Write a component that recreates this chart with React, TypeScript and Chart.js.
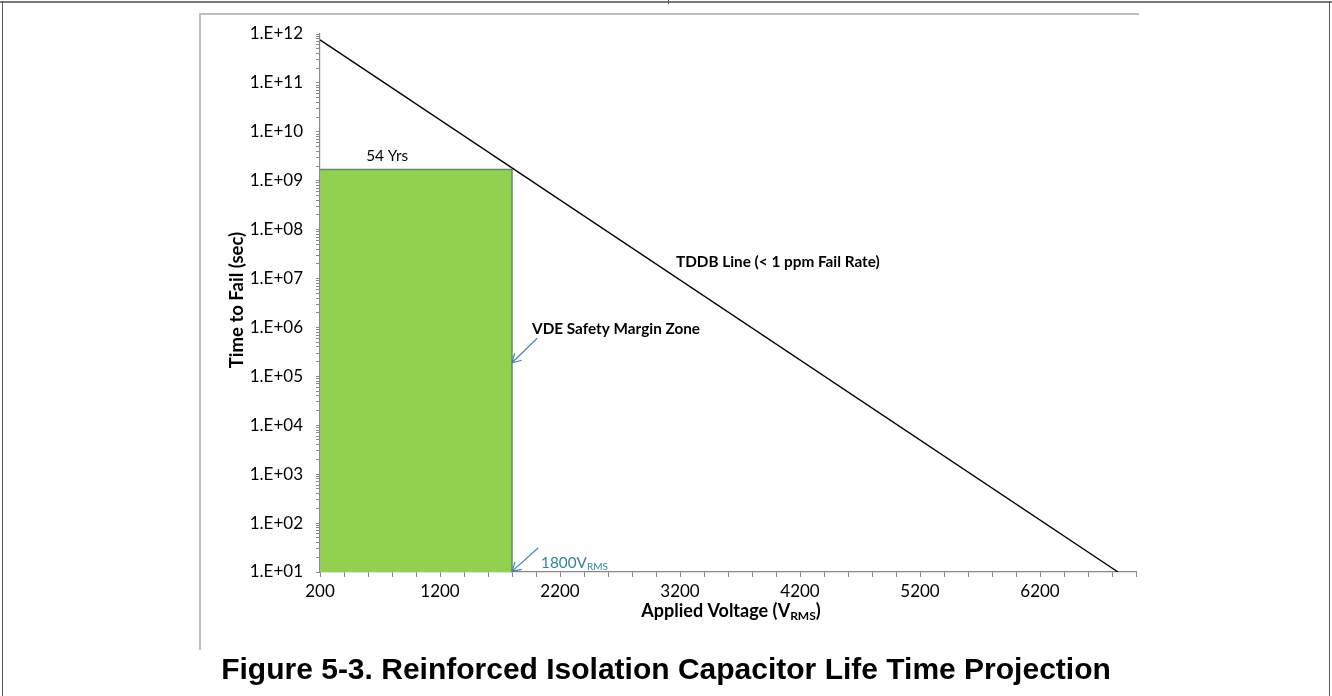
import React, { useEffect, useRef } from 'react';
import { Chart, registerables } from 'chart.js';

Chart.register(...registerables);

// ---------- data ----------
const voltageMin = 200;
const voltageMax = 7000;
const timeMin = 1e1;
const timeMax = 1e12;
const xMajorLabels = [200, 1200, 2200, 3200, 4200, 5200, 6200];
const xMinorStep = 200;
const yDecadeExponents = [1, 2, 3, 4, 5, 6, 7, 8, 9, 10, 11];

// TDDB line (< 1 ppm fail rate)
const tddbVoltage = [200, 6850];
const tddbTime = [7.6e11, 10];

// VDE safety margin zone (54 years at 1800 Vrms)
const zoneVoltage = [200, 1800, 1800];
const zoneTime = [1.7e9, 1.7e9, 10];

// text annotations (data coordinates)
const noteText = ['54 Yrs', 'TDDB Line (< 1 ppm Fail Rate)', 'VDE Safety Margin Zone'];
const noteVoltage = [760, 3167, 1967];
const noteTime = [3.2e9, 2.17e7, 9.3e5];
const noteBold = [false, true, true];
const noteAlign = ['center', 'left', 'left'];

// arrows (data coordinates): start -> end
const arrowFromVoltage = [2010, 2017];
const arrowFromTime = [6.0e5, 31];
const arrowToVoltage = [1800, 1800];
const arrowToTime = [1.9e5, 10.3];

const voltLabelMain = '1800V';
const voltLabelSub = 'RMS';
const voltLabelVoltage = 2042;
const voltLabelTime = 15.5;

const xTitleMain = 'Applied Voltage (V';
const xTitleSub = 'RMS';
const xTitleEnd = ')';
const yTitle = 'Time to Fail (sec)';
const caption = 'Figure 5-3. Reinforced Isolation Capacitor Life Time Projection';

const FONT = 'Lato, "Open Sans", sans-serif';
const AXIS_GRAY = '#898989';
const NOTE_SIZE = 15.3;

function fmtExp(v: number): string {
  const e = Math.round(Math.log10(v));
  if (Math.abs(v - Math.pow(10, e)) < 1e-6 * v) {
    return '1.E+' + String(e).padStart(2, '0');
  }
  return '';
}

function drawArrow(ctx: CanvasRenderingContext2D, x1: number, y1: number, x2: number, y2: number) {
  ctx.save();
  ctx.strokeStyle = '#4A7EBB';
  ctx.lineWidth = 1.2;
  ctx.beginPath();
  ctx.moveTo(x1, y1);
  ctx.lineTo(x2, y2);
  const ang = Math.atan2(y2 - y1, x2 - x1);
  const L = 10;
  const spread = Math.PI / 6;
  ctx.moveTo(x2 - L * Math.cos(ang - spread), y2 - L * Math.sin(ang - spread));
  ctx.lineTo(x2, y2);
  ctx.lineTo(x2 - L * Math.cos(ang + spread), y2 - L * Math.sin(ang + spread));
  ctx.stroke();
  ctx.restore();
}

function drawSubText(
  ctx: CanvasRenderingContext2D,
  main: string,
  sub: string,
  end: string,
  x: number,
  y: number,
  size: number,
  weight: string,
  color: string,
  align: 'left' | 'center'
) {
  const mainFont = `${weight} ${size}px ${FONT}`;
  const subFont = `${weight} ${Math.round(size * 0.68)}px ${FONT}`;
  ctx.save();
  ctx.fillStyle = color;
  ctx.textBaseline = 'middle';
  ctx.textAlign = 'left';
  ctx.font = mainFont;
  const w1 = ctx.measureText(main).width;
  const w3 = ctx.measureText(end).width;
  ctx.font = subFont;
  const w2 = ctx.measureText(sub).width;
  const total = w1 + w2 + w3;
  const sx = align === 'center' ? x - total / 2 : x;
  ctx.font = mainFont;
  ctx.fillText(main, sx, y);
  ctx.font = subFont;
  ctx.fillText(sub, sx + w1, y + size * 0.27);
  ctx.font = mainFont;
  ctx.fillText(end, sx + w1 + w2, y);
  ctx.restore();
}

const annotationPlugin = {
  id: 'annotations',
  afterDatasetsDraw(chart: any) {
    const { ctx, chartArea } = chart;
    const xs = chart.scales.x;
    const ys = chart.scales.y;
    ctx.save();
    for (let i = 0; i < noteText.length; i++) {
      ctx.font = `${noteBold[i] ? 'bold' : 'normal'} ${NOTE_SIZE}px ${FONT}`;
      ctx.fillStyle = '#000';
      ctx.textAlign = noteAlign[i] as CanvasTextAlign;
      ctx.textBaseline = 'middle';
      ctx.fillText(noteText[i], xs.getPixelForValue(noteVoltage[i]), ys.getPixelForValue(noteTime[i]));
    }
    for (let i = 0; i < arrowFromVoltage.length; i++) {
      drawArrow(
        ctx,
        xs.getPixelForValue(arrowFromVoltage[i]),
        ys.getPixelForValue(arrowFromTime[i]),
        xs.getPixelForValue(arrowToVoltage[i]),
        ys.getPixelForValue(arrowToTime[i])
      );
    }
    drawSubText(
      ctx,
      voltLabelMain,
      voltLabelSub,
      '',
      xs.getPixelForValue(voltLabelVoltage),
      ys.getPixelForValue(voltLabelTime),
      NOTE_SIZE,
      'normal',
      '#31859C',
      'left'
    );
    const cx = (chartArea.left + chartArea.right) / 2 + 3;
    drawSubText(ctx, xTitleMain, xTitleSub, xTitleEnd, cx, 611, 18, 'bold', '#000', 'center');
    ctx.save();
    ctx.translate(237, (chartArea.top + chartArea.bottom) / 2 - 3);
    ctx.rotate(-Math.PI / 2);
    ctx.font = `bold 18.5px ${FONT}`;
    ctx.fillStyle = '#000';
    ctx.textAlign = 'center';
    ctx.textBaseline = 'middle';
    ctx.fillText(yTitle, 0, 0);
    ctx.restore();
    ctx.restore();
  },
};

export default function App() {
  const canvasRef = useRef<HTMLCanvasElement | null>(null);

  useEffect(() => {
    document.body.style.margin = '0';
    const canvas = canvasRef.current;
    if (!canvas) return;

    const tddbData = tddbVoltage.map((v, i) => ({ x: v, y: tddbTime[i] }));
    const zoneData = zoneVoltage.map((v, i) => ({ x: v, y: zoneTime[i] }));

    const chart = new Chart(canvas, {
      type: 'scatter',
      data: {
        datasets: [
          {
            label: 'TDDB Line',
            data: tddbData,
            showLine: true,
            borderColor: '#000000',
            borderWidth: 1.4,
            pointRadius: 0,
            fill: false,
          },
          {
            label: 'VDE Safety Margin Zone',
            data: zoneData,
            showLine: true,
            borderColor: '#5E8C74',
            borderWidth: 1.5,
            backgroundColor: '#92D050',
            pointRadius: 0,
            fill: 'start',
          },
        ],
      },
      options: {
        animation: false,
        responsive: false,
        devicePixelRatio: 1,
        layout: { padding: { left: 200, top: 34, right: 196, bottom: 64 } },
        plugins: {
          legend: { display: false },
          tooltip: { enabled: false },
          title: { display: false },
        },
        scales: {
          x: {
            type: 'linear',
            min: voltageMin,
            max: voltageMax,
            afterBuildTicks: (scale: any) => {
              const t = [];
              for (let v = voltageMin; v <= voltageMax; v += xMinorStep) t.push({ value: v });
              scale.ticks = t;
            },
            afterFit: (scale: any) => {
              scale.height = 60;
            },
            ticks: {
              autoSkip: false,
              maxRotation: 0,
              padding: 4,
              color: '#000',
              font: { family: FONT, size: 17 },
              callback: (v: any) => (xMajorLabels.includes(Number(v)) ? String(v) : ''),
            },
            grid: {
              display: true,
              drawOnChartArea: false,
              drawTicks: true,
              tickLength: 5,
              tickColor: AXIS_GRAY,
              tickWidth: 1,
            },
            border: { display: true, color: AXIS_GRAY, width: 1.2 },
          },
          y: {
            type: 'logarithmic',
            min: timeMin,
            max: timeMax,
            afterBuildTicks: (scale: any) => {
              const t = [];
              for (let k = 0; k < yDecadeExponents.length; k++) {
                const base = Math.pow(10, yDecadeExponents[k]);
                for (let m = 1; m <= 9; m++) t.push({ value: base * m });
              }
              t.push({ value: timeMax });
              scale.ticks = t;
            },
            afterFit: (scale: any) => {
              scale.width = 120;
            },
            ticks: {
              autoSkip: false,
              padding: 13,
              color: '#000',
              font: { family: FONT, size: 17 },
              callback: (v: any) => fmtExp(Number(v)),
            },
            grid: {
              display: true,
              drawOnChartArea: false,
              drawTicks: true,
              tickLength: 4,
              tickColor: AXIS_GRAY,
              tickWidth: 1,
            },
            border: { display: true, color: AXIS_GRAY, width: 1.2 },
          },
        },
      },
      plugins: [annotationPlugin],
    } as any);

    return () => chart.destroy();
  }, []);

  return (
    <div style={{ position: 'relative', width: 1332, height: 696, overflow: 'hidden', background: '#fff' }}>
      {/* outer document frame */}
      <div style={{ position: 'absolute', left: 0, top: 1, width: 1332, height: 2, background: '#7A7A7A' }} />
      <div style={{ position: 'absolute', left: 2, top: 1, width: 1, height: 695, background: '#5A5A5A' }} />
      <div style={{ position: 'absolute', left: 1329, top: 1, width: 1, height: 695, background: '#5A5A5A' }} />
      <div style={{ position: 'absolute', left: 668, top: 0, width: 1, height: 4, background: '#5A5A5A' }} />
      {/* inner chart frame */}
      <div style={{ position: 'absolute', left: 199, top: 13, width: 940, height: 2, background: '#BFBFBF' }} />
      <div style={{ position: 'absolute', left: 199, top: 13, width: 2, height: 637, background: '#BFBFBF' }} />
      <canvas
        ref={canvasRef}
        width={1332}
        height={696}
        style={{ position: 'absolute', left: 0, top: 0, width: 1332, height: 696 }}
      />
      <div
        style={{
          position: 'absolute',
          left: 0,
          width: 1332,
          top: 651,
          textAlign: 'center',
          fontFamily: '"Liberation Sans", Arial, sans-serif',
          fontWeight: 'bold',
          fontSize: 30,
          lineHeight: '36px',
          color: '#000',
        }}
      >
        {caption}
      </div>
    </div>
  );
}
